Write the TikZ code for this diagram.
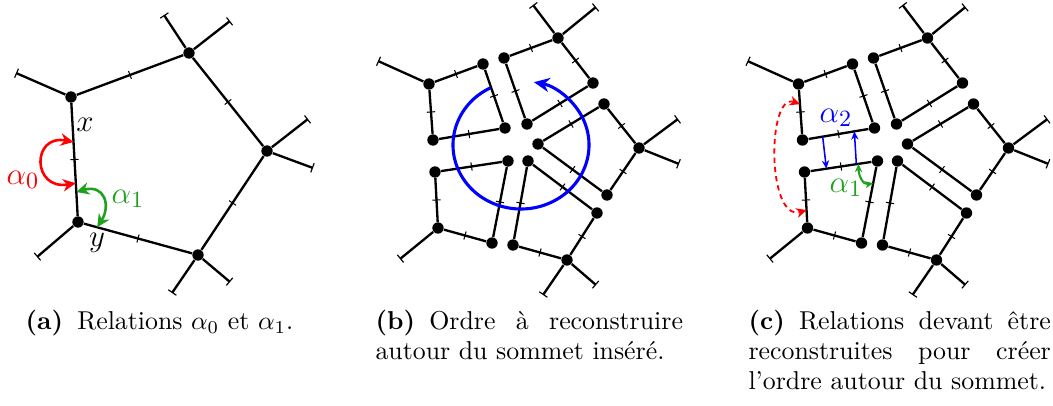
\documentclass[tikz,border=0pt]{standalone}
\usepackage{tikz}
\usetikzlibrary{arrows.meta, calc, decorations.markings}
\definecolor{relgreen}{HTML}{1FA01F}

% five faces around the inserted vertex
\newcommand{\splitfaces}[1]{%
  \node[dot] (#1tl1) at (429,84) {};
  \node[dot] (#1tl2) at (483,64) {};
  \node[dot] (#1tl3) at (505,128) {};
  \node[dot] (#1tl4) at (433,140) {};
  \node[dot] (#1tr1) at (504,58) {};
  \node[dot] (#1tr2) at (558,38) {};
  \node[dot] (#1tr3) at (593,83) {};
  \node[dot] (#1tr4) at (527,124) {};
  \node[dot] (#1r1) at (538,144) {};
  \node[dot] (#1r2) at (604,104) {};
  \node[dot] (#1r3) at (639,148) {};
  \node[dot] (#1r4) at (607,195) {};
  \node[dot] (#1br1) at (528,161) {};
  \node[dot] (#1br2) at (597,213) {};
  \node[dot] (#1br3) at (567,260) {};
  \node[dot] (#1br4) at (513,245) {};
  \node[dot] (#1bl1) at (508,161) {};
  \node[dot] (#1bl2) at (435,172) {};
  \node[dot] (#1bl3) at (438,228) {};
  \node[dot] (#1bl4) at (492,243) {};
  \coordinate (#1tl0) at (378,61);
  \coordinate (#1tr5) at (533,5);
  \coordinate (#1tr6) at (596,7);
  \coordinate (#1r5) at (678,119);
  \coordinate (#1r6) at (679,164);
  \coordinate (#1br5) at (543,295);
  \coordinate (#1br6) at (596,285);
  \coordinate (#1bl0) at (400,259);
  \foreach \f in {tl,tr,r,br,bl}
    \foreach \u/\v in {1/2, 2/3, 3/4, 4/1}
      \draw[link] (#1\f\u) -- (#1\f\v);
  \foreach \u/\v in {tl1/tl0, tr2/tr5, tr2/tr6, r3/r5, r3/r6, br3/br5, br3/br6, bl3/bl0}
    \draw[stub] (#1\u) -- (#1\v);
}

\begin{document}
\begin{tikzpicture}[
    x=0.387pt, y=-0.387pt,
    dot/.style={circle, fill=black, inner sep=0pt, minimum size=4.4pt},
    link/.style={line width=0.9pt, postaction={decorate},
        decoration={markings, mark=at position 0.5 with {\draw[line width=0.4pt] (0,-1.6pt) -- (0,1.6pt);}}},
    stub/.style={line width=0.9pt, -{Bar[width=3.8pt, line width=0.45pt]}},
    rel/.style={<->, >={Stealth[length=5pt, width=4.8pt]}, line width=1pt},
    fine/.style={line width=0.6pt, >={Stealth[length=3.2pt, width=2.8pt]}},
    lbl/.style={inner sep=0pt, font=\fontsize{13pt}{15pt}\selectfont},
    subcap/.style={inner sep=0pt, font=\fontsize{10pt}{11.6pt}\selectfont}
]
\useasboundingbox (0,0) rectangle (1053,406);

% (a) one face
\node[dot] (ax) at (71,97) {};
\node[dot] (ay) at (78,222) {};
\node[dot] (atop) at (189,53) {};
\node[dot] (aright) at (267,151) {};
\node[dot] (abot) at (198,255) {};
\coordinate (ax0) at (16,73);
\coordinate (atop0) at (164,15);
\coordinate (atop1) at (230,21);
\coordinate (aright0) at (308,119);
\coordinate (aright1) at (313,168);
\coordinate (abot0) at (172,293);
\coordinate (abot1) at (230,282);
\coordinate (ay0) at (37,257);

\foreach \u/\v in {ax/atop, atop/aright, aright/abot, abot/ay, ay/ax}
  \draw[link] (\u) -- (\v);
\foreach \u/\v in {ax/ax0, atop/atop0, atop/atop1, aright/aright0, aright/aright1, abot/abot0, abot/abot1, ay/ay0}
  \draw[stub] (\u) -- (\v);

\node[lbl] (lx) at (85,125) {$x$};
\node[lbl] (ly) at (97,243) {$y$};
\node[lbl, text=red] (la0) at (23,180) {$\alpha_0$};
\node[lbl, text=relgreen] (la1) at (128,199) {$\alpha_1$};

\coordinate (a0a) at ($(ax)!0.36!(ay)$);
\coordinate (a0b) at ($(ax)!0.69!(ay)$);
\draw[rel, red] (a0a) .. controls +(-42,-8) and +(-44,7) .. (a0b);
\coordinate (a1a) at ($(ax)!0.76!(ay)$);
\coordinate (a1b) at ($(ay)!0.16!(abot)$);
\draw[rel, relgreen] (a1a) .. controls +(28,-8) and +(14,-22) .. (a1b);

% (b) split vertex
\splitfaces{b}
\coordinate (bmid) at (521,145);
\draw[blue, line width=1.2pt, -{Stealth[length=6pt, width=5.5pt]}]
  (bmid) ++(-117:68 and 64) arc[start angle=-117, end angle=-439, x radius=68, y radius=64];

% (c) relations to rebuild
\begin{scope}[shift={(369.5,0)}]
  \splitfaces{c}
\end{scope}

\coordinate (c2a) at ($(ctl4)!0.28!(ctl3)$);
\coordinate (c2b) at ($(cbl2)!0.30!(cbl1)$);
\coordinate (c2c) at ($(cbl2)!0.71!(cbl1)$);
\coordinate (c2d) at ($(ctl4)!0.72!(ctl3)$);
\draw[fine, blue, ->] (c2a) -- (c2b);
\draw[fine, blue, ->] (c2c) -- (c2d);

\coordinate (c1a) at ($(cbl2)!0.74!(cbl1)$);
\coordinate (c1b) at ($(cbl1)!0.27!(cbl4)$);
\draw[fine, relgreen, <->, line width=0.8pt] (c1a) .. controls +(0,12) and +(-10,2) .. (c1b);

\coordinate (c0a) at ($(ctl1)!0.36!(ctl4)$);
\coordinate (c0b) at ($(cbl2)!0.68!(cbl3)$);
\draw[fine, red, <->, line width=0.7pt, dash pattern=on 2pt off 1.6pt, >={Stealth[length=4pt, width=3.8pt]}]
  (c0a) .. controls +(-33,-12) and +(-40,12) .. (c0b);

\node[lbl, text=blue] (la2) at (836,118) {$\alpha_2$};
\node[lbl, text=relgreen] (lc1) at (846,188) {$\alpha_1$};

% Captions
\node[subcap, anchor=base west] (capa) at (25,330) {\textbf{(a)}\hspace{5.5pt}Relations $\alpha_0$ et $\alpha_1$.};
\node[subcap, text width=119pt, align=justify, anchor=base west] (capb) at (375,330)
  {\textbf{(b)}\hspace{5.5pt}Ordre à reconstruire autour du sommet inséré.};
\node[subcap, text width=117pt, align=justify, anchor=base west] (capc) at (748,330)
  {\textbf{(c)}\hspace{5.5pt}Relations devant être reconstruites pour créer l'ordre autour du sommet.};

\end{tikzpicture}
\end{document}
